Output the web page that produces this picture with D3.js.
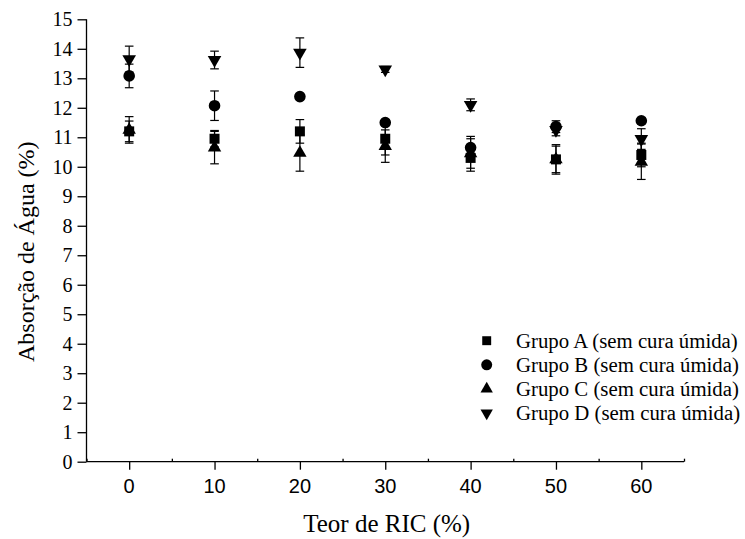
<!DOCTYPE html>
<html>
<head>
<meta charset="utf-8">
<script src="https://cdn.jsdelivr.net/npm/d3@7/dist/d3.min.js"></script>
<style>
  html, body { margin: 0; padding: 0; background: #fff; }
  svg { display: block; }
</style>
</head>
<body>
<svg id="chart" width="745" height="539" font-family="Liberation Serif"></svg>
<script>
// ---- data ----
const teorRIC = [0, 10, 20, 30, 40, 50, 60];
const xTicks = [0, 10, 20, 30, 40, 50, 60];
const xMinorTicks = [-5, 5, 15, 25, 35, 45, 55, 65];
const yTicks = [0, 1, 2, 3, 4, 5, 6, 7, 8, 9, 10, 11, 12, 13, 14, 15];

const grupoA = [11.2, 10.95, 11.2, 10.95, 10.3, 10.25, 10.4];
const erroA  = [0.35, 0.28, 0.4, 0.55, 0.45, 0.45, 0.4];
const grupoB = [13.08, 12.07, 12.38, 11.5, 10.65, 11.36, 11.56];
const erroB  = [0.4, 0.5, 0.08, 0.1, 0.38, 0.2, 0.1];
const grupoC = [11.25, 10.65, 10.47, 10.7, 10.45, 10.25, 10.17];
const erroC  = [0.45, 0.55, 0.62, 0.55, 0.5, 0.5, 0.6];
const grupoD = [13.65, 13.62, 13.87, 13.3, 12.1, 11.25, 10.94];
const erroD  = [0.44, 0.3, 0.5, 0.1, 0.2, 0.2, 0.35];

const seriesNames = ["Grupo A (sem cura úmida)", "Grupo B (sem cura úmida)",
                     "Grupo C (sem cura úmida)", "Grupo D (sem cura úmida)"];

const series = [
  {name: seriesNames[0], values: grupoA, errors: erroA, shape: "square"},
  {name: seriesNames[1], values: grupoB, errors: erroB, shape: "circle"},
  {name: seriesNames[2], values: grupoC, errors: erroC, shape: "up"},
  {name: seriesNames[3], values: grupoD, errors: erroD, shape: "down"}
];

const SERIF = "Liberation Serif";
const SANS = "Liberation Sans";

// ---- layout ----
const svg = d3.select("#chart");
const mLeft = 86.5, mRight = 684, mTop = 19.3, mBottom = 461.7;

const x = d3.scaleLinear().domain([-5, 65]).range([mLeft, mRight]);
const y = d3.scaleLinear().domain([0, 15]).range([mBottom, mTop]);

function symbolPath(shape, big) {
  const sizes = big ? {square: 100, circle: 106, up: 78, down: 80}
                    : {square: 80, circle: 95, up: 66, down: 66};
  const type = shape === "square" ? d3.symbolSquare
             : shape === "circle" ? d3.symbolCircle : d3.symbolTriangle;
  return d3.symbol().type(type).size(sizes[shape])();
}

function addText(parent, fam, size) {
  return parent.append("text")
    .attr("font-family", fam)
    .attr("font-size", size)
    .attr("style", `font-family:'${fam}';font-size:${size}px`);
}

// ---- axes (lines only; labels drawn as plain text from the same scales) ----
const xAxis = d3.axisBottom(x).tickValues(xTicks).tickSize(8).tickFormat("");
const gx = svg.append("g").attr("transform", `translate(0,${mBottom})`).call(xAxis);
gx.select(".domain").attr("d", `M${mLeft},0H${mRight}`);

const xMinor = d3.axisBottom(x).tickValues(xMinorTicks).tickSize(-3).tickFormat("");
const gxm = svg.append("g").attr("transform", `translate(0,${mBottom})`).call(xMinor);
gxm.select(".domain").remove();

const yAxis = d3.axisLeft(y).tickValues(yTicks).tickSize(9).tickFormat("");
const gy = svg.append("g").attr("transform", `translate(${mLeft},0)`).call(yAxis);
gy.select(".domain").attr("d", `M0,${mBottom}V${mTop}`);

svg.selectAll(".domain, .tick line").attr("stroke", "#000").attr("stroke-width", 1.3);

const xLab = svg.append("g");
xTicks.forEach(t => {
  addText(xLab, SANS, 20)
    .attr("x", x(t)).attr("y", mBottom + 31.5)
    .attr("text-anchor", "middle")
    .text(d3.format("d")(t));
});

const yLab = svg.append("g");
yTicks.forEach(t => {
  addText(yLab, SERIF, 20)
    .attr("x", mLeft - 14).attr("y", y(t)).attr("dy", "0.34em")
    .attr("text-anchor", "end")
    .text(d3.format("d")(t));
});

// ---- titles ----
addText(svg, SERIF, 25)
  .attr("x", 386.7).attr("y", 531.7)
  .attr("text-anchor", "middle")
  .text("Teor de RIC (%)");

addText(svg, SERIF, 24)
  .attr("transform", "translate(34,251.7) rotate(-90)")
  .attr("text-anchor", "middle")
  .text("Absorção de Água (%)");

// ---- data marks ----
const cap = 4.3;
series.forEach(s => {
  const g = svg.append("g");
  const pts = teorRIC.map((t, i) => ({t, v: s.values[i], e: s.errors[i]}));
  const eb = g.selectAll(".eb").data(pts).enter().append("g")
    .attr("stroke", "#000").attr("stroke-width", 1.2);
  eb.append("line")
    .attr("x1", d => x(d.t)).attr("x2", d => x(d.t))
    .attr("y1", d => y(d.v - d.e)).attr("y2", d => y(d.v + d.e));
  eb.append("line")
    .attr("x1", d => x(d.t) - cap).attr("x2", d => x(d.t) + cap)
    .attr("y1", d => y(d.v + d.e)).attr("y2", d => y(d.v + d.e));
  eb.append("line")
    .attr("x1", d => x(d.t) - cap).attr("x2", d => x(d.t) + cap)
    .attr("y1", d => y(d.v - d.e)).attr("y2", d => y(d.v - d.e));
  g.selectAll(".pt").data(pts).enter().append("path")
    .attr("d", symbolPath(s.shape, true))
    .attr("transform", d => `translate(${x(d.t)},${y(d.v)})` + (s.shape === "down" ? " rotate(180)" : ""))
    .attr("fill", "#000");
});

// ---- legend ----
const legend = svg.append("g");
const lx = 486.7, ly0 = 340.7, ldy = 24.1;
series.forEach((s, i) => {
  const yy = ly0 + i * ldy;
  legend.append("path")
    .attr("d", symbolPath(s.shape, false))
    .attr("transform", `translate(${lx},${yy})` + (s.shape === "down" ? " rotate(180)" : ""))
    .attr("fill", "#000");
  addText(legend, SERIF, 20.8)
    .attr("x", 516).attr("y", yy).attr("dy", "0.33em")
    .text(s.name);
});
</script>
</body>
</html>
